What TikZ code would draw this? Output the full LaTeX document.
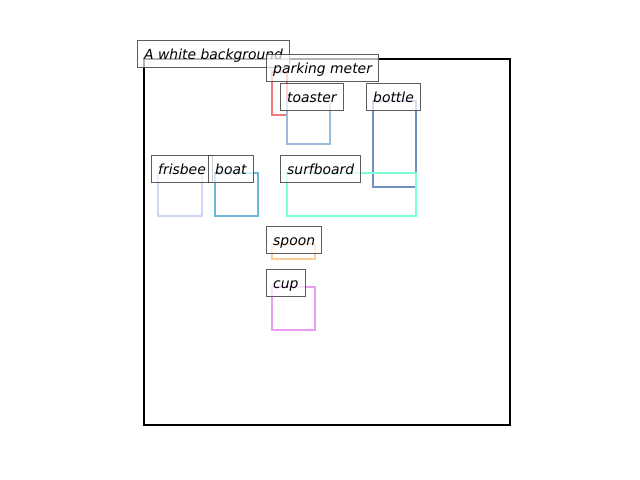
\documentclass[tikz,border=0pt]{standalone}
\usepackage{fontspec}
\setmainfont{DejaVu Sans}
\definecolor{cpark}{HTML}{F07878}
\definecolor{ctoast}{HTML}{9BBBDA}
\definecolor{cbottle}{HTML}{6E8FC4}
\definecolor{cfris}{HTML}{CCD6F8}
\definecolor{cboat}{HTML}{6CB8D8}
\definecolor{csurf}{HTML}{7FFFD4}
\definecolor{cspoon}{HTML}{FFCC99}
\definecolor{ccup}{HTML}{E89CF0}
\begin{document}
\begin{tikzpicture}[x=0.72pt,y=-0.72pt,
  lbl/.style={draw=black!75, draw opacity=0.85, fill=white, fill opacity=0.7, text opacity=1,
    font=\itshape\fontsize{10}{12}\selectfont, text height=8.8pt, text depth=1.2pt,
    inner xsep=4.8pt, inner ysep=4.7pt, anchor=north west, line width=0.8pt},
  bb/.style={line width=1.7pt}]
\useasboundingbox (0,0) rectangle (640,480);
\draw[line width=1.5pt] (144,59) rectangle (510,425);
% object boxes
\draw[bb, cpark] (272,72) rectangle (287,115);
\draw[bb, ctoast] (287,101) rectangle (330,144);
\draw[bb, cbottle] (373,101) rectangle (416,187);
\draw[bb, cfris] (158,173) rectangle (202,216);
\draw[bb, cboat] (215,173) rectangle (258,216);
\draw[bb, csurf] (287,173) rectangle (416,216);
\draw[bb, cspoon] (272,244) rectangle (315,259);
\draw[bb, ccup] (272,287) rectangle (315,330);
% labels
\node[lbl] (bg) at (137,40) {A white background};
\node[lbl] (park) at (266,54) {parking meter};
\node[lbl] (toast) at (280,83) {toaster};
\node[lbl] (bottle) at (366,83) {bottle};
\node[lbl] (fris) at (151,155) {frisbee};
\node[lbl] (boat) at (208,155) {boat};
\node[lbl] (surf) at (280,155) {surfboard};
\node[lbl] (spoon) at (266,226) {spoon};
\node[lbl] (cup) at (266,269) {cup};
\end{tikzpicture}
\end{document}
